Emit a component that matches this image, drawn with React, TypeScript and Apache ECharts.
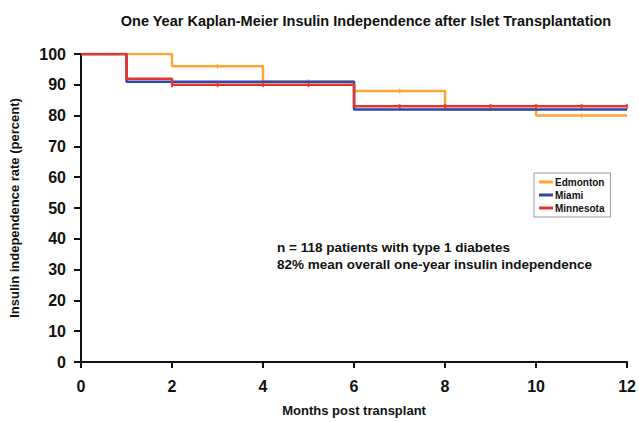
import React, { useEffect, useRef } from "react";
import * as echarts from "echarts";

const seriesNames = ["Edmonton", "Miami", "Minnesota"];
const edmontonX = [0, 2, 4, 6, 8, 10, 12];
const edmontonY = [100, 96, 91, 88, 82, 80, 80];
const miamiX = [0, 1, 6, 12];
const miamiY = [100, 91, 82, 82];
const minnesotaX = [0, 1, 2, 6, 12];
const minnesotaY = [100, 92, 90, 83, 83];
const minnesotaCensorX = [2, 3, 4, 5, 7, 8, 9, 10, 11, 12];
const minnesotaCensorY = [90, 90, 90, 90, 83, 83, 83, 83, 83, 83];
const edmontonCensorX = [3, 5, 7, 11];
const edmontonCensorY = [96, 91, 88, 80];
const colors = ["#FFA530", "#2B48B0", "#E8342A"];
const yTicks = [0, 10, 20, 30, 40, 50, 60, 70, 80, 90, 100];
const xTicks = [0, 2, 4, 6, 8, 10, 12];

const zip = (xs: number[], ys: number[]) => xs.map((x, i) => [x, ys[i]]);

export default function App() {
  const ref = useRef<HTMLDivElement>(null);
  useEffect(() => {
    if (!ref.current) return;
    const chart = echarts.init(ref.current, null, { renderer: "svg" });
    const font = "Liberation Sans, Arial, sans-serif";
    chart.setOption({
      animation: false,
      backgroundColor: "#ffffff",
      title: {
        text: "One Year Kaplan-Meier Insulin Independence after Islet Transplantation",
        left: 361,
        textAlign: "center",
        top: 8,
        textStyle: { fontFamily: font, fontSize: 14.5, fontWeight: "bold", color: "#111" },
      },
      grid: { left: 79, right: 8, top: 54, bottom: 60, containLabel: false },
      legend: {
        data: seriesNames,
        orient: "vertical",
        left: 534,
        top: 173,
        icon: "rect",
        itemWidth: 14,
        itemHeight: 3,
        itemGap: 3,
        padding: [4, 6, 4, 5],
        borderColor: "#999",
        borderWidth: 1,
        textStyle: { fontFamily: font, fontSize: 10, fontWeight: "bold", color: "#111", padding: [0, 0, 0, -3] },
      },
      xAxis: {
        type: "value",
        min: xTicks[0],
        max: xTicks[xTicks.length - 1],
        interval: 2,
        name: "Months post transplant",
        nameLocation: "middle",
        nameGap: 42,
        nameTextStyle: { fontFamily: font, fontSize: 13, fontWeight: "bold", color: "#111" },
        axisLine: { lineStyle: { color: "#111", width: 2 } },
        axisTick: { length: 6, lineStyle: { color: "#111", width: 2 } },
        axisLabel: { fontFamily: font, fontSize: 16, fontWeight: "bold", color: "#111", margin: 16 },
        splitLine: { show: false },
      },
      yAxis: {
        type: "value",
        min: yTicks[0],
        max: yTicks[yTicks.length - 1],
        interval: 10,
        name: "Insulin independence rate (percent)",
        nameLocation: "middle",
        nameGap: 60,
        nameTextStyle: { fontFamily: font, fontSize: 13, fontWeight: "bold", color: "#111" },
        axisLine: { show: true, lineStyle: { color: "#111", width: 2 } },
        axisTick: { show: true, length: 7, lineStyle: { color: "#111", width: 2 } },
        axisLabel: { fontFamily: font, fontSize: 16, fontWeight: "bold", color: "#111", margin: 15 },
        splitLine: { show: false },
      },
      graphic: [
        {
          type: "text",
          left: 277,
          top: 239,
          style: {
            text: "n = 118 patients with type 1 diabetes\n82% mean overall one-year insulin independence",
            fontFamily: font,
            fontSize: 13.5,
            fontWeight: "bold",
            fill: "#111",
            lineHeight: 17,
          },
        },
      ],
      series: [
        {
          name: seriesNames[0],
          type: "line",
          step: "end",
          data: zip(edmontonX, edmontonY),
          showSymbol: false,
          lineStyle: { color: colors[0], width: 2.5 },
          itemStyle: { color: colors[0] },
          z: 2,
        },
        {
          name: seriesNames[1],
          type: "line",
          step: "end",
          data: zip(miamiX, miamiY),
          showSymbol: false,
          lineStyle: { color: colors[1], width: 2.5 },
          itemStyle: { color: colors[1] },
          z: 3,
        },
        {
          name: seriesNames[2],
          type: "line",
          step: "end",
          data: zip(minnesotaX, minnesotaY),
          showSymbol: false,
          lineStyle: { color: colors[2], width: 2.5 },
          itemStyle: { color: colors[2] },
          z: 4,
        },
        {
          type: "scatter",
          data: zip(edmontonCensorX, edmontonCensorY),
          symbol: "rect",
          symbolSize: [1.5, 5],
          itemStyle: { color: colors[0] },
          z: 2,
        },
        {
          type: "scatter",
          data: zip(minnesotaCensorX, minnesotaCensorY),
          symbol: "rect",
          symbolSize: [2, 5],
          itemStyle: { color: colors[2] },
          z: 5,
        },
      ],
    });
    return () => chart.dispose();
  }, []);
  return <div ref={ref} style={{ width: 639, height: 422, position: "absolute", left: 0, top: 0 }} />;
}
